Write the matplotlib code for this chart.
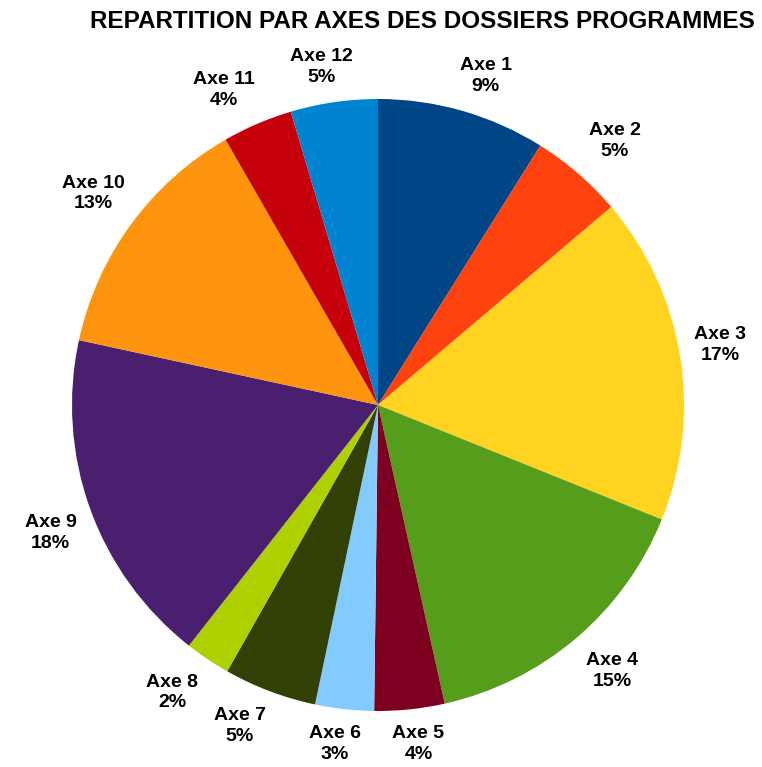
import numpy as np
import matplotlib
matplotlib.use("Agg")
import matplotlib.pyplot as plt

plt.rcParams['font.family'] = ['Liberation Sans', 'DejaVu Sans']

labels = ["Axe 1", "Axe 2", "Axe 3", "Axe 4", "Axe 5", "Axe 6",
          "Axe 7", "Axe 8", "Axe 9", "Axe 10", "Axe 11", "Axe 12"]
shares = [8.9, 4.9, 17.3, 15.4, 3.7, 3.1, 4.9, 2.4, 17.8, 13.3, 3.7, 4.6]
colors = ["#004586", "#ff420e", "#ffd320", "#579d1c", "#7e0021", "#83caff",
          "#314004", "#aecf00", "#4b1f6f", "#ff950e", "#c5000b", "#0084d1"]

W, H = 762, 767
fig = plt.figure(figsize=(W / 100, H / 100), dpi=100)
R = 306
cx, cy = 378, H - 405
ax = fig.add_axes([(cx - R) / W, (cy - R) / H, 2 * R / W, 2 * R / H])

wedges, _ = ax.pie(shares, colors=colors, startangle=90, counterclock=False,
                   radius=1, wedgeprops=dict(linewidth=0))
ax.set_xlim(-1, 1); ax.set_ylim(-1, 1); ax.axis("off")

# labels sit just outside the rim, box pushed outward along the slice direction
pad, hw, hh = 10 / R, 30 / R, 25 / R
tot = sum(shares)
for w, lab, v in zip(wedges, labels, shares):
    a = np.deg2rad((w.theta1 + w.theta2) / 2)
    dx, dy = np.cos(a), np.sin(a)
    x = dx * (1 + pad) + np.clip(2.5 * dx, -1, 1) * hw
    y = dy * (1 + pad) + np.clip(2.5 * dy, -1, 1) * hh
    ax.text(x, y, f"{lab}\n{100 * v / tot:.0f}%", ha="center", va="center",
            fontsize=14, fontweight="bold", linespacing=1.3, clip_on=False)

fig.text(422 / W, 1 - 21 / H, "REPARTITION PAR AXES DES DOSSIERS PROGRAMMES",
         ha="center", va="center", fontsize=17.5, fontweight="bold")

fig.savefig("out.png", dpi=100)
